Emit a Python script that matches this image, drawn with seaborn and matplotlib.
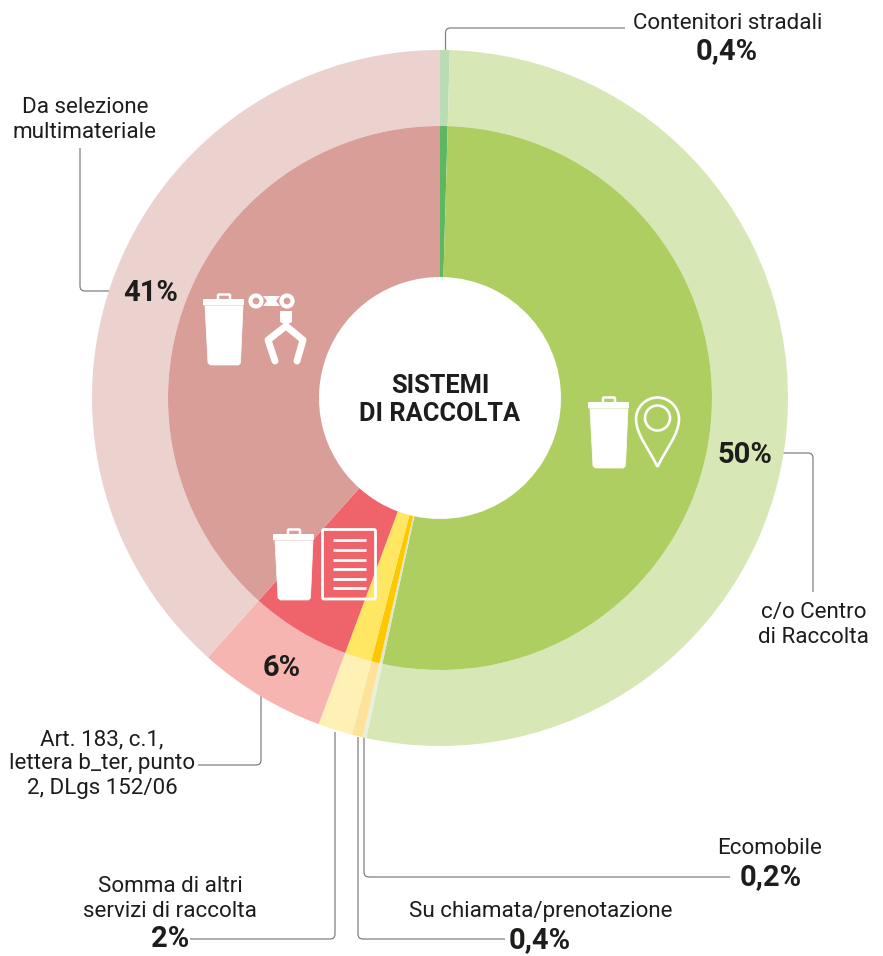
import matplotlib
matplotlib.use("Agg")
import matplotlib.pyplot as plt
import numpy as np
import seaborn as sns
from matplotlib.patches import Circle, FancyBboxPatch, PathPatch
from matplotlib.path import Path

# Slices, clockwise from the top. The arcs are not drawn to the printed
# percentages, so arc_share is read off the picture and printed separately.
systems = ["Contenitori stradali", "c/o Centro di Raccolta", "Ecomobile",
           "Su chiamata/prenotazione", "Somma di altri servizi di raccolta",
           "Art. 183, c.1, lettera b_ter, punto 2, DLgs 152/06",
           "Da selezione multimateriale"]
arc_share = [0.45, 52.95, 0.17, 0.5, 1.6, 5.95, 38.38]
printed_pct = ["0,4%", "50%", "0,2%", "0,4%", "2%", "6%", "41%"]
title_lines = "SISTEMI\nDI RACCOLTA"

outer_colors = ["#b9dcb4", "#d8e7b6", "#e9f0da", "#ffe29a", "#fff1b6", "#f7b5b1", "#ebd2ce"]
inner_colors = ["#5eb562", "#afce62", "#dfe8c5", "#fdc800", "#ffe763", "#ef636a", "#da9e99"]

LINE = "#808080"
TEXT = "#1d1d1b"

sns.set_theme(style="white")
plt.rcParams["font.family"] = ["Roboto", "DejaVu Sans"]

fig = plt.figure(figsize=(8.83, 9.56), dpi=100)
ax = fig.add_axes([0, 0, 1, 1])


def leader(points, r=5):
    """Grey polyline with small rounded corners, pixel coordinates."""
    p = [np.array(q, dtype=float) for q in points]
    verts, codes = [p[0]], [Path.MOVETO]
    for a, b, c in zip(p, p[1:], p[2:]):
        verts += [b - r * (b - a) / np.linalg.norm(b - a), b,
                  b + r * (c - b) / np.linalg.norm(c - b)]
        codes += [Path.LINETO, Path.CURVE3, Path.CURVE3]
    verts.append(p[-1])
    codes.append(Path.LINETO)
    ax.add_patch(PathPatch(Path(verts, codes), fc="none", ec=LINE, lw=0.9, zorder=1))


def trash_bin(x, y):
    """White bin, x and y being the top left of the lid."""
    ax.add_patch(PathPatch(Path([(x + 2, y + 12), (x + 40, y + 12), (x + 37.5, y + 69), (x + 35.5, y + 71),
                                 (x + 7.5, y + 71), (x + 5, y + 69), (x + 2, y + 12)]),
                           fc="white", ec="white", lw=0.5, zorder=4))
    ax.add_patch(FancyBboxPatch((x + 1, y + 6), 39, 4.5, boxstyle="round,pad=1", fc="white", ec="none", zorder=4))
    ax.add_patch(FancyBboxPatch((x + 16, y + 1.5), 10, 5, boxstyle="round,pad=1", fc="none", ec="white",
                                lw=1.8, zorder=4))


# rings, the inner one on top
ax.pie(arc_share, colors=sns.color_palette(outer_colors), center=(440, 398), radius=348, startangle=-90,
       counterclock=True, frame=True, wedgeprops=dict(width=76, linewidth=0, zorder=2))
ax.pie(arc_share, colors=sns.color_palette(inner_colors), center=(440, 398), radius=272, startangle=-90,
       counterclock=True, frame=True, wedgeprops=dict(width=151, linewidth=0, zorder=2))
ax.set_xlim(0, 883)
ax.set_ylim(956, 0)
ax.axis("off")

# leader lines
leader([(445.5, 50), (445.5, 28), (625, 28)])
leader([(778, 453), (813, 453), (813, 592)])
leader([(120, 291), (80, 291), (80, 148)])
leader([(261, 695), (261, 765), (198, 765)])
leader([(335, 732), (335, 939), (190, 939)])
leader([(358, 737), (358, 939), (505, 939)])
leader([(364, 737), (364, 877), (730, 877)])

# icons
trash_bin(203, 294)
trash_bin(588, 397)
trash_bin(273, 529)

# robot arm
for cx in (256, 287):
    ax.add_patch(Circle((cx, 301), 5.5, fc="none", ec="white", lw=3, zorder=4))
ax.add_patch(PathPatch(Path([(263, 296), (280, 296), (276, 301), (280, 306), (263, 306), (267, 301), (263, 296)]),
                       fc="white", ec="none", zorder=4))
ax.add_patch(PathPatch(Path([(280, 311), (292, 311), (292, 322), (286, 325), (280, 322), (280, 311)]),
                       fc="white", ec="none", zorder=4))
ax.plot([275, 268, 286, 303, 297], [361, 340, 326, 340, 361], color="white", lw=5,
        solid_capstyle="round", solid_joinstyle="round", zorder=4)

# map pin
ax.add_patch(PathPatch(Path([(657.5, 467), (650, 450), (636, 435), (636, 419),
                             (636, 407), (646, 397.5), (657.5, 397.5),
                             (669, 397.5), (679, 407), (679, 419),
                             (679, 435), (665, 450), (657.5, 467)],
                            [Path.MOVETO] + [Path.CURVE4] * 12),
                       fc="none", ec="white", lw=1.9, zorder=4))
ax.add_patch(Circle((657.5, 418), 12.5, fc="none", ec="white", lw=1.9, zorder=4))

# document
ax.add_patch(FancyBboxPatch((324, 531), 50, 66.5, boxstyle="round,pad=1.5", fc="none", ec="white", lw=2, zorder=4))
for ly in (540, 550, 559.5, 569, 578.5, 588):
    ax.plot([333, 366], [ly, ly], color="white", lw=2, solid_capstyle="butt", zorder=4)

# centre title
ax.text(440, 400, title_lines, ha="center", va="center", fontsize=18.3, fontweight="bold", color=TEXT,
        linespacing=1.22, zorder=5)


def label(x, y, s):
    ax.text(x, y, s, ha="center", va="center", fontsize=16.1, color=TEXT, linespacing=1.2, zorder=5)


def pct(x, y, s):
    ax.text(x, y, s, ha="center", va="center", fontsize=21, fontweight="bold", color=TEXT, zorder=5)


label(728, 23, "Contenitori stradali")
label(85, 120, "Da selezione\nmultimateriale")
label(813.5, 625, "c/o Centro\ndi Raccolta")
label(102, 764, "Art. 183, c.1,\nlettera b_ter, punto\n2, DLgs 152/06")
label(170, 899, "Somma di altri\nservizi di raccolta")
label(541, 912, "Su chiamata/prenotazione")
label(770, 848, "Ecomobile")

pct(727, 51, printed_pct[0])
pct(745, 455, printed_pct[1])
pct(771, 877, printed_pct[2])
pct(540, 940, printed_pct[3])
pct(170, 939, printed_pct[4])
pct(281.5, 668, printed_pct[5])
pct(151, 293, printed_pct[6])

fig.savefig("out.png", dpi=100)
